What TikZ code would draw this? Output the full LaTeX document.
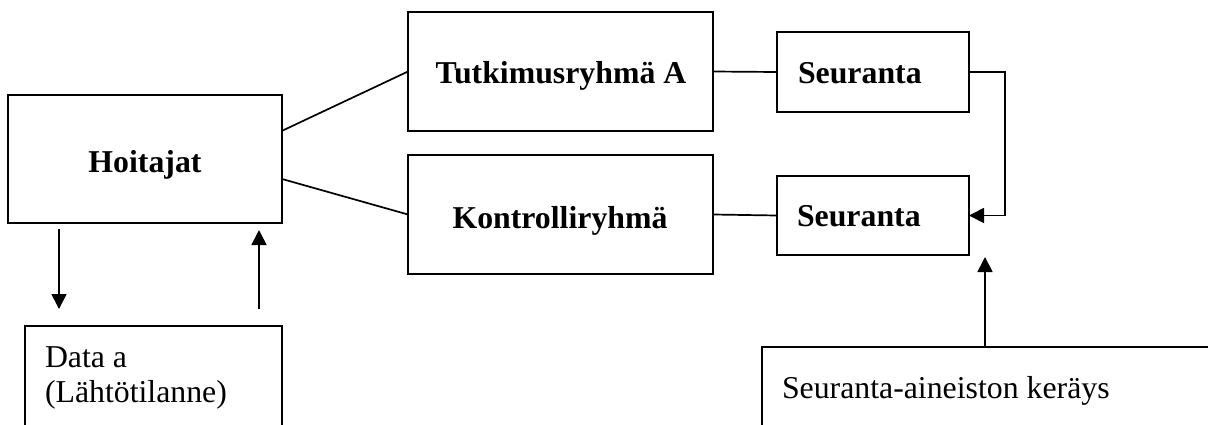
\documentclass[tikz,border=0pt]{standalone}
\usepackage{fontspec}
\setmainfont{Liberation Serif}
\usetikzlibrary{arrows.meta,calc}
\begin{document}
\begin{tikzpicture}[x=1pt,y=-1pt,
  box/.style={draw=black,line width=2pt,rectangle,inner sep=0pt,outer sep=0pt},
  txt/.style={inner sep=0pt,outer sep=0pt,font=\fontsize{31.8}{36}\selectfont},
  btxt/.style={txt,font=\fontsize{31.8}{36}\selectfont\bfseries},
  conn/.style={line width=1.7pt},
  arr/.style={line width=1.7pt,-{Triangle[length=15pt,width=15pt]}}]
\fill[white] (0,0) rectangle (1208,424);
\useasboundingbox (0,0) rectangle (1208,424);
\clip (0,0) rectangle (1208,424);
% boxes
\node[box,minimum width=274pt,minimum height=128pt] (hoi) at (145,159) {};
\node[box,minimum width=257pt,minimum height=140pt] (data) at (153.5,396) {};
\node[box,minimum width=305pt,minimum height=119pt] (tut) at (560.5,71.5) {};
\node[box,minimum width=305pt,minimum height=119pt] (kon) at (560.5,214.5) {};
\node[box,minimum width=192pt,minimum height=80pt] (seu1) at (873,72) {};
\node[box,minimum width=192pt,minimum height=79pt] (seu2) at (873,215.5) {};
\node[box,minimum width=470pt,minimum height=120pt] (ker) at (997,407) {};
% texts
\node[btxt,anchor=base] (t1) at (145,172) {Hoitajat};
\node[btxt,anchor=base] (t2) at (561,83) {Tutkimusryhmä A};
\node[btxt,anchor=base] (t3) at (560,228) {Kontrolliryhmä};
\node[btxt,anchor=base west] (t4) at (798,83) {Seuranta};
\node[btxt,anchor=base west] (t5) at (797,226) {Seuranta};
\node[txt,anchor=base west] (t6) at (45,367) {Data a};
\node[txt,anchor=base west] (t7) at (45,402) {(Lähtötilanne)};
\node[txt,anchor=base west] (t8) at (782,398) {Seuranta-aineiston keräys};
% helper coordinates
\coordinate (xa) at (59,0);
\coordinate (xb) at (259,0);
\coordinate (xc) at (985,0);
% connectors
\draw[conn] ($(hoi.north east)!0.28!(hoi.south east)$) -- (tut.west);
\draw[conn] ($(hoi.north east)!0.656!(hoi.south east)$) -- (kon.west);
\draw[conn] (tut.east) -- (seu1.west);
\draw[conn] (kon.east) -- (seu2.west);
\draw[arr] (seu1.east) -- ++(36,0) |- (seu2.east);
\draw[arr,shorten >=2pt] (ker.north -| xc) -- (seu2.south -| xc);
\draw[arr,shorten <=6pt,shorten >=17pt] (hoi.south -| xa) -- (data.north -| xa);
\draw[arr,shorten <=17pt,shorten >=7pt] (data.north -| xb) -- (hoi.south -| xb);
\end{tikzpicture}
\end{document}
